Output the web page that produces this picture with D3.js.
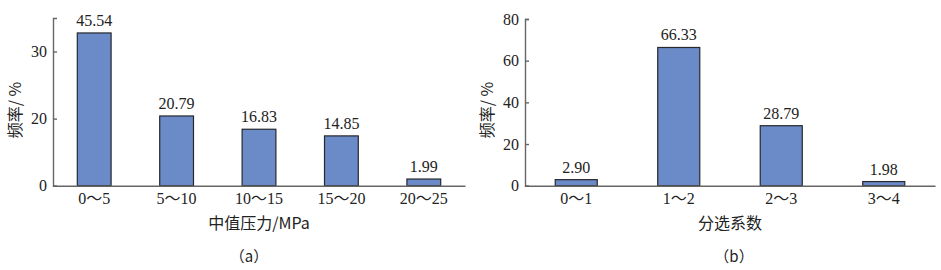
<!DOCTYPE html>
<html>
<head>
<meta charset="utf-8">
<script src="https://cdn.jsdelivr.net/npm/d3@7"></script>
<style>
  body { margin: 0; background: #fff; }
  text { fill: #222; }
  .num { font-family: "Liberation Serif", "Times New Roman", "DejaVu Serif", serif; font-size: 16px; }
  .cjk { font-family: "Noto Sans CJK SC", "Liberation Serif", serif; }
</style>
</head>
<body>
<div id="chart"></div>
<script>
// panel (a)
var catsA = ["0～5", "5～10", "10～15", "15～20", "20～25"];
var valsA = [45.54, 20.79, 16.83, 14.85, 1.99];
var labelsA = ["45.54", "20.79", "16.83", "14.85", "1.99"];
var ticksA = [0, 20, 40];
var tickTextA = ["0", "20", "30"];   // the original figure labels its 40 tick "30"

// panel (b)
var catsB = ["0～1", "1～2", "2～3", "3～4"];
var valsB = [2.90, 66.33, 28.79, 1.98];
var labelsB = ["2.90", "66.33", "28.79", "1.98"];
var ticksB = [0, 20, 40, 60, 80];
var tickTextB = ["0", "20", "40", "60", "80"];

var W = 941, H = 270;

var svg = d3.select("#chart").append("svg")
	.attr("width", W)
	.attr("height", H);

function panel(opt) {
	var x = d3.scaleBand()
		.domain(opt.cats)
		.range([opt.x0, opt.x1])
		.paddingInner(0.59)
		.paddingOuter(0.295);

	var y = d3.scaleLinear()
		.domain([0, opt.ymax])
		.range([185.7, opt.ytop]);

	var g = svg.append("g");

	// bars
	g.selectAll(".bar")
		.data(opt.vals)
		.enter()
		.append("rect")
			.attr("class", "bar")
			.attr("x", (d, i) => x(opt.cats[i]))
			.attr("y", d => y(d))
			.attr("width", x.bandwidth())
			.attr("height", d => y(0) - y(d))
			.style("fill", "#6a8ac8")
			.style("stroke", "#26282e")
			.style("stroke-width", 1.2);

	// value labels
	g.selectAll(".lbl")
		.data(opt.vals)
		.enter()
		.append("text")
			.attr("class", "num")
			.attr("x", (d, i) => x(opt.cats[i]) + x.bandwidth() / 2)
			.attr("y", d => y(d) - 7)
			.attr("text-anchor", "middle")
			.text((d, i) => opt.labels[i]);

	// y axis, ticks pointing inward
	var yAxis = g.append("g")
		.attr("transform", "translate(" + opt.x0 + ",0)")
		.call(d3.axisLeft(y)
			.tickValues(opt.ticks)
			.tickFormat((d, i) => opt.tickText[i])
			.tickSizeInner(-4)
			.tickSizeOuter(-4)
			.tickPadding(6));
	yAxis.attr("font-family", null).attr("font-size", null);
	yAxis.selectAll("path, line").style("stroke", "#666").style("stroke-width", 1.4);
	yAxis.selectAll("text").attr("class", "num").attr("fill", "#222");

	// x axis
	var xAxis = g.append("g")
		.attr("transform", "translate(0," + y(0) + ")")
		.call(d3.axisBottom(x).tickSize(0).tickPadding(7));
	xAxis.attr("font-family", null).attr("font-size", null);
	xAxis.select(".domain").style("stroke", "#666").style("stroke-width", 1.6);
	// split the range labels so the wide wave dash comes from the CJK font
	xAxis.selectAll("text").each(function(d) {
		var t = d3.select(this).attr("class", "num").attr("fill", "#222").text(null);
		var parts = d.split("～");
		t.append("tspan").text(parts[0]);
		t.append("tspan").attr("class", "cjk").text("～");
		t.append("tspan").text(parts[1]);
	});

	// axis titles
	g.append("text")
		.attr("class", "cjk")
		.attr("x", (opt.x0 + opt.x1) / 2)
		.attr("y", 229)
		.attr("text-anchor", "middle")
		.style("font-size", "16px")
		.text(opt.xTitle);

	g.append("text")
		.attr("class", "cjk")
		.attr("transform", "translate(" + (opt.x0 - 38) + ",110) rotate(-90)")
		.attr("text-anchor", "middle")
		.attr("dy", "0.35em")
		.style("font-size", "16px")
		.text("频率/ %");

	// sub-caption
	g.append("text")
		.attr("class", "cjk")
		.attr("x", opt.capX)
		.attr("y", 262)
		.attr("text-anchor", "middle")
		.style("font-size", "15px")
		.text(opt.caption);
}

panel({cats: catsA, vals: valsA, labels: labelsA, ticks: ticksA, tickText: tickTextA,
	x0: 53, x1: 465, ymax: 50, ytop: 18, xTitle: "中值压力/MPa", caption: "（a）", capX: 249});

panel({cats: catsB, vals: valsB, labels: labelsB, ticks: ticksB, tickText: tickTextB,
	x0: 525, x1: 935, ymax: 80, ytop: 19, xTitle: "分选系数", caption: "（b）", capX: 734});
</script>
</body>
</html>
